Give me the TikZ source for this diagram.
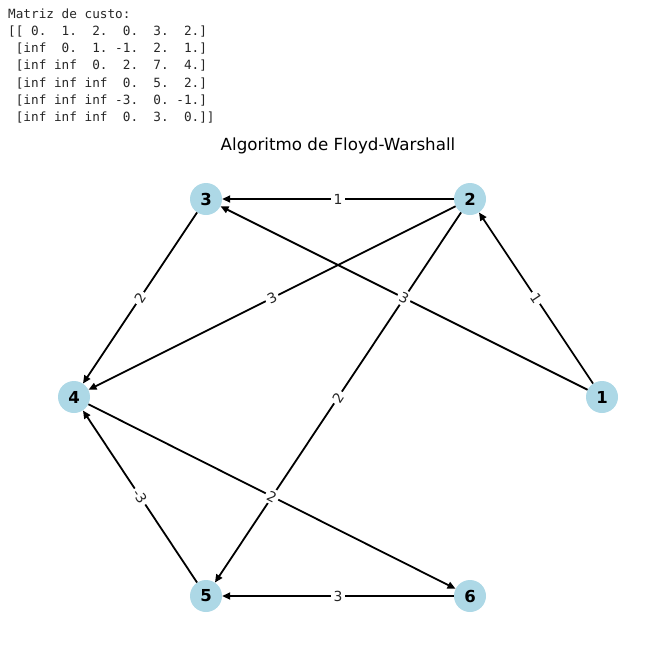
\documentclass[tikz,border=0pt]{standalone}
\usepackage{fontspec}
\setmainfont{DejaVu Sans}
\newfontfamily\monofont{DejaVu Sans Mono}
\usetikzlibrary{arrows.meta}
\definecolor{nodeblue}{HTML}{ADD8E6}
\begin{document}
\begin{tikzpicture}[x=1pt,y=-1pt,
  vert/.style={circle, fill=nodeblue, minimum size=32pt, inner sep=0pt, font=\fontsize{16.5}{16.5}\selectfont\bfseries},
  edge/.style={draw=black, line width=1.8pt, -{Triangle[length=8pt,width=7pt]}},
  elabel/.style={fill=white, inner sep=2.5pt, rounded corners=2pt, font=\fontsize{13.9}{14}\selectfont, text=black!85, sloped, pos=0.5},
  codeline/.style={anchor=base west, inner sep=0pt, font=\monofont\fontsize{12.7}{14}\selectfont, text=black!85},
  titlestyle/.style={anchor=base, inner sep=0pt, font=\fontsize{16.7}{17}\selectfont}]
\useasboundingbox (0,0) rectangle (667,646);
% printed matrix
\node[codeline] (c1) at (8,18) {Matriz~de~custo:};
\node[codeline] (c2) at (8,35.3) {[[~0.~~1.~~2.~~0.~~3.~~2.]};
\node[codeline] (c3) at (8,52.6) {~[inf~~0.~~1.~-1.~~2.~~1.]};
\node[codeline] (c4) at (8,69.9) {~[inf~inf~~0.~~2.~~7.~~4.]};
\node[codeline] (c5) at (8,87.2) {~[inf~inf~inf~~0.~~5.~~2.]};
\node[codeline] (c6) at (8,104.5) {~[inf~inf~inf~-3.~~0.~-1.]};
\node[codeline] (c7) at (8,121.8) {~[inf~inf~inf~~0.~~3.~~0.]]};
% title
\node[titlestyle] (title) at (338,150) {Algoritmo de Floyd-Warshall};
% vertices
\node[vert] (n1) at (602,397) {1};
\node[vert] (n2) at (470,199) {2};
\node[vert] (n3) at (206,199) {3};
\node[vert] (n4) at (74,397) {4};
\node[vert] (n5) at (206,596) {5};
\node[vert] (n6) at (470,596) {6};
% edges
\draw[edge] (n1) -- (n2);
\draw[edge] (n1) -- (n3);
\draw[edge] (n2) -- (n3);
\draw[edge] (n2) -- (n4);
\draw[edge] (n2) -- (n5);
\draw[edge] (n3) -- (n4);
\draw[edge] (n4) -- (n6);
\draw[edge] (n5) -- (n4);
\draw[edge] (n6) -- (n5);
% edge labels (drawn on top of all edges)
\path (n1) -- node[elabel] (l12) {1} (n2);
\path (n1) -- node[elabel] (l13) {3} (n3);
\path (n2) -- node[elabel] (l23) {1} (n3);
\path (n2) -- node[elabel] (l24) {3} (n4);
\path (n2) -- node[elabel] (l25) {2} (n5);
\path (n3) -- node[elabel] (l34) {2} (n4);
\path (n4) -- node[elabel] (l46) {2} (n6);
\path (n5) -- node[elabel] (l54) {-3} (n4);
\path (n6) -- node[elabel] (l65) {3} (n5);
\end{tikzpicture}
\end{document}
